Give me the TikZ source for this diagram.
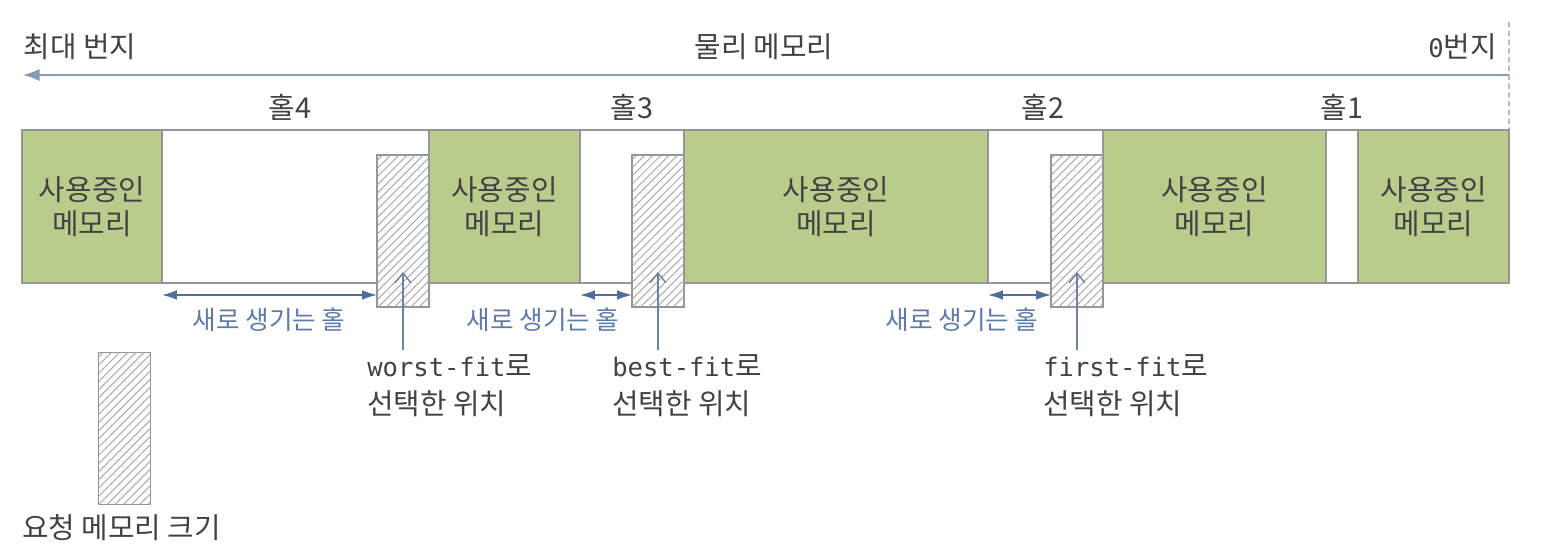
\documentclass[tikz,border=0pt]{standalone}
\usepackage{fontspec}
\setmainfont{Noto Sans CJK KR}
\newfontfamily\mono[Scale=0.885]{DejaVu Sans Mono}
\usetikzlibrary{patterns.meta,arrows.meta,calc}
\definecolor{usedgreen}{RGB}{186,204,140}
\definecolor{bordergray}{RGB}{150,150,150}
\definecolor{hatchgray}{RGB}{160,160,160}
\definecolor{txtgray}{RGB}{66,66,66}
\definecolor{arrowblue}{RGB}{80,110,155}
\definecolor{ptrblue}{RGB}{110,130,165}
\definecolor{holeblue}{RGB}{95,122,165}
\definecolor{topblue}{RGB}{135,155,185}
\begin{document}
\begin{tikzpicture}[x=0.02cm,y=-0.02cm,
  txt/.style={text=txtgray,font=\fontsize{16.4}{19.3}\selectfont,inner sep=0pt},
  usedblk/.style={draw=bordergray,line width=1.1pt,fill=usedgreen,minimum height=3.06cm,
    inner sep=0pt,outer sep=0pt,align=center,text=txtgray,font=\fontsize{16.4}{19.3}\selectfont},
  holeblk/.style={draw=bordergray,line width=1.1pt,fill=white,minimum height=3.06cm,inner sep=0pt,outer sep=0pt},
  hatchbox/.style={draw=bordergray,line width=1.1pt,fill=white,minimum width=1.04cm,minimum height=3.04cm,
    inner sep=0pt,outer sep=0pt,
    postaction={pattern color=hatchgray,pattern={Lines[angle=45,distance=3.3pt,line width=0.5pt]}}},
  dbl/.style={{Latex[length=8.5pt,width=5.5pt]}-{Latex[length=8.5pt,width=5.5pt]},draw=arrowblue,line width=0.8pt},
  ptr/.style={-{Straight Barb[length=5.5pt,width=9pt]},draw=ptrblue,line width=0.8pt},
  toparrow/.style={-{Latex[length=9.5pt,width=7pt]},draw=topblue,line width=0.9pt},
  dashline/.style={draw=bordergray,line width=0.6pt,dash pattern=on 3pt off 2pt},
  newhole/.style={text=holeblue,font=\fontsize{14.6}{16}\selectfont,inner sep=0pt},
  fitlbl/.style={text=txtgray,font=\fontsize{16.4}{21.5}\selectfont,inner sep=0pt,anchor=north west,align=left}
]
\useasboundingbox (0,0) rectangle (1560,554);

% top labels and arrow
\node[txt] (maxad) at (80,47) {최대 번지};
\node[txt] (phys) at (764,47) {물리 메모리};
\node[txt,anchor=east] (zero) at (1497,47) {{\mono 0}번지};
\coordinate (topR) at (1509,75);
\coordinate (topL) at (23,75);
\draw[toparrow] (topR) -- (topL);

% memory bar: holes
\node[holeblk,minimum width=5.34cm] (h4) at (295.5,206.5) {};
\node[holeblk,minimum width=2.08cm] (h3) at (632,206.5) {};
\node[holeblk,minimum width=2.30cm] (h2) at (1045.5,206.5) {};
\node[holeblk,minimum width=0.64cm] (h1) at (1342,206.5) {};

% used blocks
\node[usedblk,minimum width=2.80cm] (u5) at (92,206.5) {사용중인\\메모리};
\node[usedblk,minimum width=3.02cm] (u4) at (504.5,206.5) {사용중인\\메모리};
\node[usedblk,minimum width=6.08cm] (u3) at (836,206.5) {사용중인\\메모리};
\node[usedblk,minimum width=4.46cm] (u2) at (1214.5,206.5) {사용중인\\메모리};
\node[usedblk,minimum width=3.02cm] (u1) at (1433.5,206.5) {사용중인\\메모리};

\coordinate (dtop) at (1509,22);
\draw[dashline] (dtop) -- (u1.north east);

% hole labels
\node[txt] (lh4) at (290,107) {홀4};
\node[txt] (lh3) at (632,107) {홀3};
\node[txt] (lh2) at (1043,107) {홀2};
\node[txt] (lh1) at (1342,107) {홀1};

% hatched boxes
\node[hatchbox] (wf) at (403,231) {};
\node[hatchbox] (bf) at (658,231) {};
\node[hatchbox] (ff) at (1077,231) {};
\node[hatchbox] (rq) at (124.5,428.5) {};

% new hole arrows
\coordinate (a4) at ($(h4.south west)+(0,12)$);
\draw[dbl] (a4) -- (a4 -| wf.west);
\coordinate (a3) at ($(h3.south west)+(0,12)$);
\draw[dbl] (a3) -- (a3 -| bf.west);
\coordinate (a2) at ($(h2.south west)+(0,12)$);
\draw[dbl] (a2) -- (a2 -| ff.west);
\node[newhole] (n4) at (269,320) {새로 생기는 홀};
\node[newhole] (n3) at (543,320) {새로 생기는 홀};
\node[newhole] (n2) at (962,320) {새로 생기는 홀};

% fit labels
\node[fitlbl] (wfl) at (367,354) {{\mono worst-fit}로\\선택한 위치};
\node[fitlbl] (bfl) at (612,354) {{\mono best-fit}로\\선택한 위치};
\node[fitlbl] (ffl) at (1043,354) {{\mono first-fit}로\\선택한 위치};
\draw[ptr] (wfl.north -| wf.center) ++(0,-4) -- ($(wf.south)+(0,-35)$);
\draw[ptr] (bfl.north -| bf.center) ++(0,-4) -- ($(bf.south)+(0,-35)$);
\draw[ptr] (ffl.north -| ff.center) ++(0,-4) -- ($(ff.south)+(0,-35)$);

% request
\node[txt,anchor=west] (reql) at (22,528) {요청 메모리 크기};
\end{tikzpicture}
\end{document}
